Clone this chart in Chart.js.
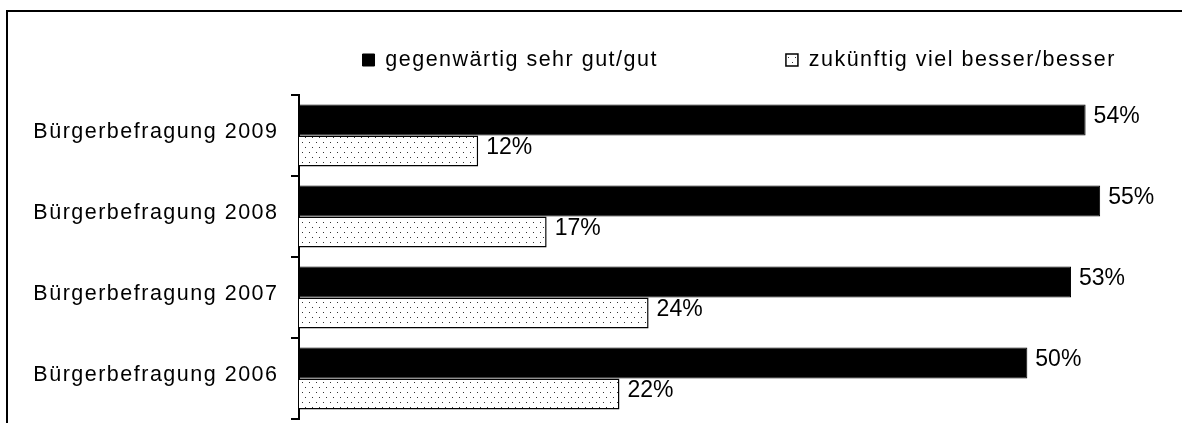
<!DOCTYPE html>
<html><head><meta charset="utf-8">
<script src="https://cdn.jsdelivr.net/npm/chart.js@4/dist/chart.umd.min.js"></script>
<style>
html,body{margin:0;padding:0;background:#fff;overflow:hidden;width:1182px;height:423px;}
#wrap{position:relative;width:1182px;height:423px;}
#frame{position:absolute;left:6px;top:10px;width:1400px;height:700px;border-left:2px solid #000;border-top:2px solid #000;box-sizing:border-box;pointer-events:none;}
canvas{position:absolute;left:0;top:0;}
</style></head><body>
<div id="wrap"><canvas id="c" width="1182" height="423"></canvas><div id="frame"></div></div>
<script>
const categories = ['Bürgerbefragung 2009', 'Bürgerbefragung 2008', 'Bürgerbefragung 2007', 'Bürgerbefragung 2006'];
const seriesNames = ['gegenwärtig sehr gut/gut', 'zukünftig viel besser/besser'];
const currentValues = [54, 55, 53, 50];
const futureValues = [12.3, 17, 24, 22];
const axisMin = 0;
const axisMax = 60;

const FONT = '"Liberation Sans", Arial, sans-serif';
Chart.defaults.font.family = FONT;
Chart.defaults.color = '#000';

const canvas = document.getElementById('c');
function makeDots() {
  const t = document.createElement('canvas');
  t.width = 7; t.height = 10;
  const x = t.getContext('2d');
  x.fillStyle = '#fff'; x.fillRect(0, 0, 7, 10);
  x.fillStyle = '#333';
  x.fillRect(1, 2, 1, 1);
  x.fillRect(4, 7, 1, 1);
  return canvas.getContext('2d').createPattern(t, 'repeat');
}
const dots = makeDots();

const spacing = {
  id: 'spacing',
  beforeLayout(chart) { chart.ctx.letterSpacing = '1.5px'; },
  beforeDraw(chart) { chart.ctx.letterSpacing = '1.5px'; }
};

const valueLabels = {
  id: 'valueLabels',
  afterDatasetsDraw(chart) {
    const ctx = chart.ctx;
    ctx.save();
    ctx.letterSpacing = '0px';
    ctx.font = '23px ' + FONT;
    ctx.fillStyle = '#000';
    ctx.textAlign = 'left';
    ctx.textBaseline = 'middle';
    chart.data.datasets.forEach((ds, di) => {
      chart.getDatasetMeta(di).data.forEach((bar, i) => {
        ctx.fillText(Math.round(ds.data[i]) + '%', bar.x + 8, bar.y - 3.5);
      });
    });
    ctx.restore();
  }
};

new Chart(canvas, {
  type: 'bar',
  data: {
    labels: categories,
    datasets: [
      { label: seriesNames[0], data: currentValues, backgroundColor: '#000', borderColor: '#000', borderWidth: 1 },
      { label: seriesNames[1], data: futureValues, backgroundColor: dots, borderColor: '#000', borderWidth: 1.5 }
    ]
  },
  options: {
    indexAxis: 'y',
    responsive: false,
    animation: false,
    devicePixelRatio: 1,
    categoryPercentage: 0.765,
    barPercentage: 1,
    layout: { padding: { left: 0, right: -296.5, top: -78.75, bottom: 4 } },
    plugins: {
      tooltip: { enabled: false },
      legend: {
        position: 'top',
        align: 'center',
        labels: {
          boxWidth: 12, boxHeight: 12, padding: 128,
          color: '#000',
          font: { size: 21.5, family: FONT }
        }
      }
    },
    scales: {
      x: {
        position: 'top', min: axisMin, max: axisMax,
        grid: { display: false, drawTicks: false },
        ticks: { display: false },
        border: { display: false },
        afterFit(s) { s.height = 14.25; s.paddingLeft = 0; s.paddingRight = 0; }
      },
      y: {
        position: 'left',
        grid: { offset: true, drawOnChartArea: false, drawTicks: true, tickLength: 8, color: '#000', lineWidth: 2 },
        border: { display: true, color: '#000', width: 2 },
        ticks: { color: '#000', font: { size: 21.5, family: FONT }, padding: 12.5, labelOffset: -3.5 },
        afterFit(s) { s.width = 299; s.paddingTop = 0; s.paddingBottom = 0; }
      },
      y2: {
        type: 'linear', position: 'right',
        grid: { display: false, drawTicks: false },
        ticks: { display: false },
        border: { display: false },
        afterFit(s) { s.width = 305.5; s.paddingTop = 0; s.paddingBottom = 0; }
      }
    }
  },
  plugins: [spacing, valueLabels]
});
</script>
</body></html>
